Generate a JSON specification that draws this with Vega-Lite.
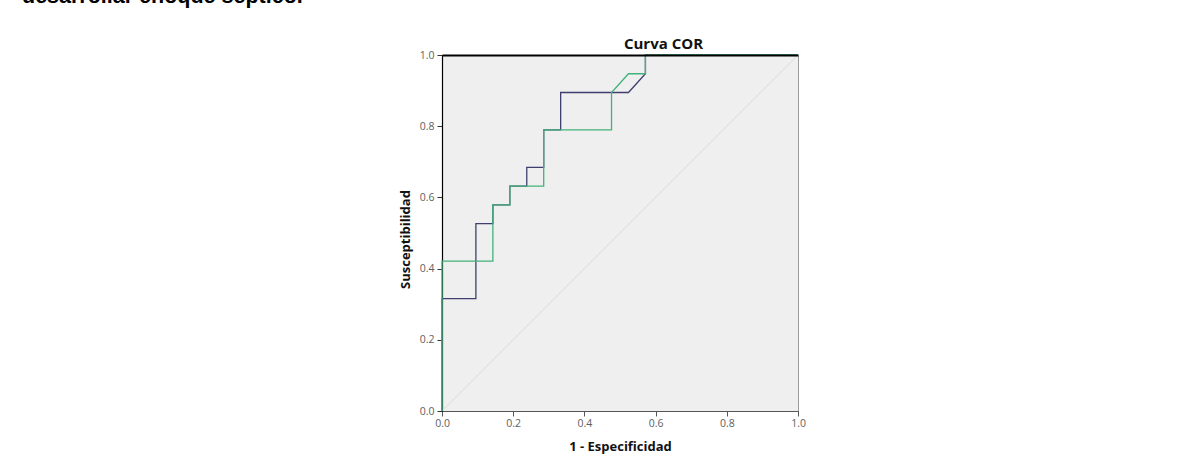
{
  "$schema": "https://vega.github.io/schema/vega-lite/v6.json",
  "autosize": {"type": "none"},
  "padding": {"left": 442, "top": 55, "right": 381, "bottom": 44},
  "width": 356,
  "height": 356,
  "background": "white",
  "title": {
    "text": "desarrollar choque séptico.",
    "anchor": "start",
    "frame": "group",
    "dx": -420,
    "dy": -25,
    "font": "Liberation Sans",
    "fontSize": 21.5,
    "fontWeight": "bold",
    "color": "#000"
  },
  "datasets": {
    "roc": [
      {"serie": "A", "ord": 1, "fpr": 0, "tpr": 0},
      {"serie": "A", "ord": 2, "fpr": 0, "tpr": 0.3158},
      {"serie": "A", "ord": 3, "fpr": 0.0952, "tpr": 0.3158},
      {"serie": "A", "ord": 4, "fpr": 0.0952, "tpr": 0.5263},
      {"serie": "A", "ord": 5, "fpr": 0.1429, "tpr": 0.5263},
      {"serie": "A", "ord": 6, "fpr": 0.1429, "tpr": 0.5789},
      {"serie": "A", "ord": 7, "fpr": 0.1905, "tpr": 0.5789},
      {"serie": "A", "ord": 8, "fpr": 0.1905, "tpr": 0.6316},
      {"serie": "A", "ord": 9, "fpr": 0.2381, "tpr": 0.6316},
      {"serie": "A", "ord": 10, "fpr": 0.2381, "tpr": 0.6842},
      {"serie": "A", "ord": 11, "fpr": 0.2857, "tpr": 0.6842},
      {"serie": "A", "ord": 12, "fpr": 0.2857, "tpr": 0.7895},
      {"serie": "A", "ord": 13, "fpr": 0.3333, "tpr": 0.7895},
      {"serie": "A", "ord": 14, "fpr": 0.3333, "tpr": 0.8947},
      {"serie": "A", "ord": 15, "fpr": 0.5238, "tpr": 0.8947},
      {"serie": "A", "ord": 16, "fpr": 0.5714, "tpr": 0.9474},
      {"serie": "A", "ord": 17, "fpr": 0.5714, "tpr": 1},
      {"serie": "A", "ord": 18, "fpr": 1, "tpr": 1},
      {"serie": "B", "ord": 1, "fpr": 0, "tpr": 0},
      {"serie": "B", "ord": 2, "fpr": 0, "tpr": 0.4211},
      {"serie": "B", "ord": 3, "fpr": 0.1429, "tpr": 0.4211},
      {"serie": "B", "ord": 4, "fpr": 0.1429, "tpr": 0.5789},
      {"serie": "B", "ord": 5, "fpr": 0.1905, "tpr": 0.5789},
      {"serie": "B", "ord": 6, "fpr": 0.1905, "tpr": 0.6316},
      {"serie": "B", "ord": 7, "fpr": 0.2857, "tpr": 0.6316},
      {"serie": "B", "ord": 8, "fpr": 0.2857, "tpr": 0.7895},
      {"serie": "B", "ord": 9, "fpr": 0.4762, "tpr": 0.7895},
      {"serie": "B", "ord": 10, "fpr": 0.4762, "tpr": 0.8947},
      {"serie": "B", "ord": 11, "fpr": 0.5238, "tpr": 0.9474},
      {"serie": "B", "ord": 12, "fpr": 0.5714, "tpr": 0.9474},
      {"serie": "B", "ord": 13, "fpr": 0.5714, "tpr": 1},
      {"serie": "B", "ord": 14, "fpr": 1, "tpr": 1}
    ],
    "diag": [
      {"fpr": 0, "tpr": 0},
      {"fpr": 1, "tpr": 1}
    ]
  },
  "resolve": {"axis": {"x": "independent"}},
  "layer": [
    {
      "data": {"name": "diag"},
      "mark": {"type": "line", "color": "#e2e2e2", "strokeWidth": 1.2, "clip": true},
      "encoding": {
        "x": {
          "field": "fpr", "type": "quantitative",
          "scale": {"domain": [0, 1], "nice": false},
          "axis": {
            "orient": "top", "title": "Curva COR", "labels": false, "ticks": false, "grid": false,
            "domainColor": "#000", "domainWidth": 2, "zindex": 3,
            "titleFont": "Open Sans", "titleFontSize": 15, "titleFontWeight": "bold", "titleColor": "#111",
            "titleX": 221, "titleY": -7, "titleBaseline": "alphabetic", "titleAlign": "center"
          }
        },
        "y": {
          "field": "tpr", "type": "quantitative",
          "scale": {"domain": [0, 1], "nice": false},
          "axis": {
            "values": [0, 0.2, 0.4, 0.6, 0.8, 1], "format": ".1f", "grid": false,
            "title": "Susceptibilidad", "labelFlush": false,
            "labelFont": "Open Sans", "labelFontSize": 10.5, "labelColor": "#606060", "labelPadding": 3,
            "tickColor": "#333", "tickSize": 5, "domainColor": "#000", "domainWidth": 1.2,
            "titleFont": "Open Sans", "titleFontSize": 13, "titleFontWeight": "bold", "titleColor": "#111",
            "titleX": -37, "titleY": 184, "titleAngle": -90, "titleAlign": "center", "titleBaseline": "middle"
          }
        }
      }
    },
    {
      "data": {"name": "roc"},
      "transform": [{"filter": "datum.serie === 'A'"}],
      "mark": {"type": "line", "color": "#3e3f6e", "strokeWidth": 1.3},
      "encoding": {
        "x": {
          "field": "fpr", "type": "quantitative",
          "scale": {"domain": [0, 1], "nice": false},
          "axis": {
            "orient": "bottom", "values": [0, 0.2, 0.4, 0.6, 0.8, 1], "format": ".1f", "grid": false,
            "title": "1 - Especificidad", "labelFlush": false,
            "labelFont": "Open Sans", "labelFontSize": 10.5, "labelColor": "#606060", "labelPadding": 2,
            "tickColor": "#555", "tickSize": 5, "domainColor": "#555", "domainWidth": 1.2,
            "titleFont": "Open Sans", "titleFontSize": 13, "titleFontWeight": "bold", "titleColor": "#111",
            "titleX": 178, "titleY": 39, "titleBaseline": "alphabetic", "titleAlign": "center"
          }
        },
        "y": {"field": "tpr", "type": "quantitative", "scale": {"domain": [0, 1], "nice": false}},
        "order": {"field": "ord", "type": "quantitative"}
      }
    },
    {
      "data": {"name": "roc"},
      "transform": [{"filter": "datum.serie === 'B'"}],
      "mark": {"type": "line", "color": "#42b27b", "strokeWidth": 1.3},
      "encoding": {
        "x": {"field": "fpr", "type": "quantitative", "scale": {"domain": [0, 1], "nice": false}, "axis": null},
        "y": {"field": "tpr", "type": "quantitative", "scale": {"domain": [0, 1], "nice": false}},
        "order": {"field": "ord", "type": "quantitative"}
      }
    }
  ],
  "config": {
    "view": {"fill": "#efefef", "stroke": "#9a9a9a", "strokeWidth": 1}
  }
}
